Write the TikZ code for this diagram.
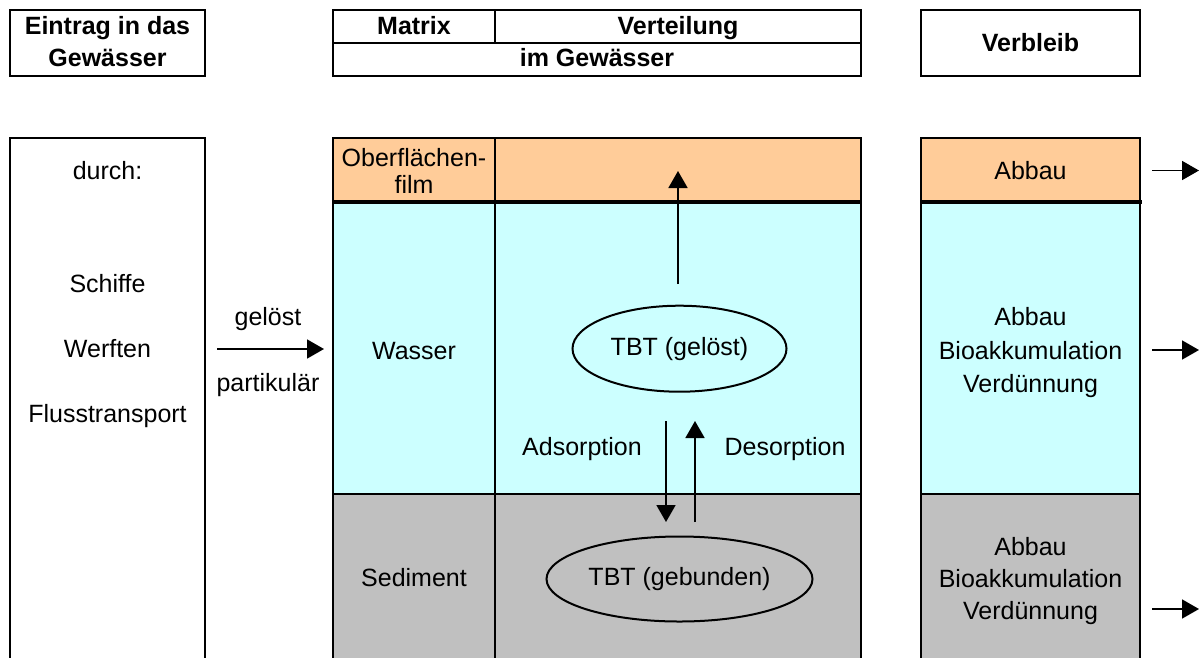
\documentclass[tikz,border=0pt]{standalone}
\usepackage{fontspec}
\setmainfont{Liberation Sans}
\usetikzlibrary{arrows.meta,shapes.geometric}
\definecolor{filmc}{HTML}{FFCC99}
\definecolor{wasserc}{HTML}{CCFFFF}
\definecolor{sedc}{HTML}{C0C0C0}
\begin{document}
\begin{tikzpicture}[x=1pt,y=-1pt,
  box/.style={draw, line width=2.5pt},
  thickline/.style={draw, line width=4.5pt},
  txt/.style={font=\fontsize{25}{30}\selectfont, inner sep=0pt, anchor=base},
  hd/.style={font=\bfseries\fontsize{25}{30}\selectfont, inner sep=0pt, anchor=base},
  arr/.style={line width=1.8pt, -{Triangle[length=17pt,width=19pt]}},
  blob/.style={ellipse, draw, line width=2pt, inner sep=0pt, font=\fontsize{25}{30}\selectfont}
]
\useasboundingbox (0,0) rectangle (1200,657);
\begin{scope}
\clip (0,0) rectangle (1200,657);
% ---------- headers
\draw[box] (10,10) rectangle (205,76);
\node[hd] (h1a) at (107.5,34.5) {Eintrag in das};
\node[hd] (h1b) at (107.5,66) {Gewässer};
\draw[box] (333,10) rectangle (861,76);
\draw[box] (333,43) -- (861,43);
\draw[box] (495,10) -- (495,43);
\node[hd] (hm) at (414,34.5) {Matrix};
\node[hd] (hv) at (678,34.5) {Verteilung};
\node[hd] (hg) at (597,66) {im Gewässer};
\draw[box] (921,10) rectangle (1140,76);
\node[hd] (hb) at (1030.5,51.5) {Verbleib};
% ---------- left column
\draw[box] (10,138) rectangle (205,700);
\node[txt] (durch) at (107.5,179) {durch:};
\node[txt] (schiffe) at (107.5,292) {Schiffe};
\node[txt] (werften) at (107.5,357) {Werften};
\node[txt] (fluss) at (107.5,422) {Flusstransport};
% ---------- middle block
\fill[filmc] (333,138) rectangle (861,202);
\fill[wasserc] (333,202) rectangle (861,494);
\fill[sedc] (333,494) rectangle (861,700);
\draw[box] (333,138) rectangle (861,700);
\draw[box] (495,138) -- (495,700);
\draw[thickline] (333,202) -- (861,202);
\draw[box] (333,494) -- (861,494);
\node[txt] (ofa) at (414,166.5) {Oberflächen-};
\node[txt] (ofb) at (414,193) {film};
\node[txt] (wasser) at (414,359) {Wasser};
\node[txt] (sediment) at (414,586) {Sediment};
\node[blob, minimum width=214pt, minimum height=86pt] (tbt1) at (679.5,348.7) {TBT (gelöst)};
\node[blob, minimum width=266pt, minimum height=85pt] (tbt2) at (679.5,579) {TBT (gebunden)};
\node[txt] (ads) at (582,455) {Adsorption};
\node[txt] (des) at (785,455) {Desorption};
% ---------- right column
\fill[filmc] (921,138) rectangle (1140,202);
\fill[wasserc] (921,202) rectangle (1140,494);
\fill[sedc] (921,494) rectangle (1140,700);
\draw[box] (921,138) rectangle (1140,700);
\draw[thickline] (921,202) -- (1142,202);
\draw[box] (921,494) -- (1140,494);
\node[txt] (r1) at (1030.5,179) {Abbau};
\node[txt] (r2a) at (1030.5,325) {Abbau};
\node[txt] (r2b) at (1030.5,359) {Bioakkumulation};
\node[txt] (r2c) at (1030.5,392) {Verdünnung};
\node[txt] (r3a) at (1030.5,555) {Abbau};
\node[txt] (r3b) at (1030.5,587) {Bioakkumulation};
\node[txt] (r3c) at (1030.5,619) {Verdünnung};
% ---------- arrows
\coordinate (inS) at (217,349);
\coordinate (inE) at (324,349);
\draw[arr] (inS) -- (inE);
\node[txt] (geloest) at (268,325) {gelöst};
\node[txt] (partik) at (268,391) {partikulär};
\coordinate (upS) at (678,284);
\coordinate (upE) at (678,171);
\draw[arr] (upS) -- (upE);
\coordinate (adS) at (666,421);
\coordinate (adE) at (666,522);
\draw[arr] (adS) -- (adE);
\coordinate (deS) at (695,522);
\coordinate (deE) at (695,421);
\draw[arr] (deS) -- (deE);
\coordinate (o1S) at (1152,170.5);
\coordinate (o1E) at (1199,170.5);
\draw[arr] (o1S) -- (o1E);
\coordinate (o2S) at (1152,350);
\coordinate (o2E) at (1199,350);
\draw[arr] (o2S) -- (o2E);
\coordinate (o3S) at (1152,609);
\coordinate (o3E) at (1199,609);
\draw[arr] (o3S) -- (o3E);
\end{scope}
\end{tikzpicture}
\end{document}
